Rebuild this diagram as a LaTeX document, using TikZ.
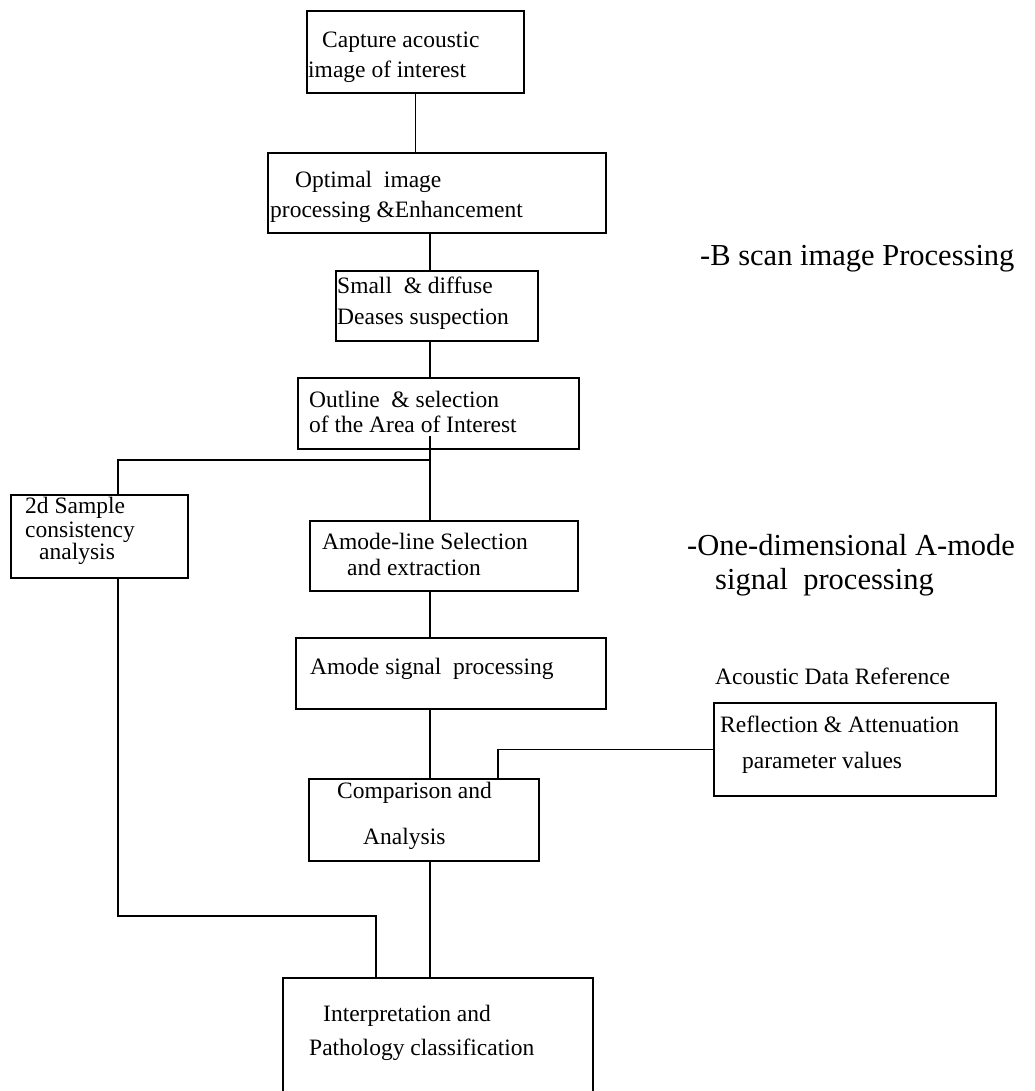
\documentclass[tikz,border=0pt]{standalone}
\usepackage{fontspec}
\setmainfont{Liberation Serif}
\begin{document}
\begin{tikzpicture}[x=1pt, y=-1pt,
  box/.style={draw, line width=1.6pt, inner sep=0pt, anchor=north west},
  lbl/.style={inner sep=0pt, anchor=mid west, font=\fontsize{23.5}{26}\selectfont},
  side/.style={inner sep=0pt, anchor=mid west, font=\fontsize{30.5}{34}\selectfont},
  wire/.style={line width=1.6pt}]
\useasboundingbox (0,0) rectangle (1034,1091);
\fill[white] (0,0) rectangle (1034,1091);
\clip (0,0) rectangle (1034,1091);

% reference columns for the connectors
\coordinate (spine) at (430,0);
\coordinate (leftx) at (118,0);
\coordinate (tapx)  at (498,0);
\coordinate (split) at (430,460);
\coordinate (elbow) at (376,916);

% boxes
\node[box, minimum width=217pt, minimum height=82pt] (capture) at (306,10) {};
\node[box, minimum width=338pt, minimum height=80pt] (optimal) at (267,152) {};
\node[box, minimum width=202pt, minimum height=70pt] (small)   at (335,270) {};
\node[box, minimum width=281pt, minimum height=71pt] (outline) at (297,377) {};
\node[box, minimum width=177pt, minimum height=83pt] (sample)  at (10,494) {};
\node[box, minimum width=268pt, minimum height=70pt] (aline)   at (309,520) {};
\node[box, minimum width=310pt, minimum height=71pt] (asig)    at (295,637) {};
\node[box, minimum width=282pt, minimum height=93pt] (refl)    at (713,702) {};
\node[box, minimum width=230pt, minimum height=82pt] (comp)    at (308,778) {};
\node[box, minimum width=310pt, minimum height=150pt] (interp) at (282,977) {};

% box texts
\node[lbl] (t1a) at (322,45)  {Capture acoustic};
\node[lbl] (t1b) at (308,75)  {image of interest};
\node[lbl] (t2a) at (295,185) {Optimal\ \ image};
\node[lbl] (t2b) at (270,215) {processing \&Enhancement};
\node[lbl] (t3a) at (337,291) {Small\ \ \& diffuse};
\node[lbl] (t3b) at (337,322) {Deases suspection};
\node[lbl] (t4a) at (309,405) {Outline\ \ \& selection};
\node[lbl] (t4b) at (309,430) {of the Area of Interest};
\node[lbl] (t5a) at (25,511)  {2d Sample};
\node[lbl] (t5b) at (25,535)  {consistency};
\node[lbl] (t5c) at (39,557)  {analysis};
\node[lbl] (t6a) at (322,547) {Amode-line Selection};
\node[lbl] (t6b) at (347,573) {and extraction};
\node[lbl] (t7a) at (310,672) {Amode signal\ \ processing};
\node[lbl] (t8h) at (715,682) {Acoustic Data Reference};
\node[lbl] (t8a) at (720,730) {Reflection \& Attenuation};
\node[lbl] (t8b) at (742,766) {parameter values};
\node[lbl] (t9a) at (337,796) {Comparison and};
\node[lbl] (t9b) at (363,842) {Analysis};
\node[lbl] (t10a) at (323,1019) {Interpretation and};
\node[lbl] (t10b) at (309,1053) {Pathology classification};

% stage captions
\node[side] (capB) at (700,263) {-B\ scan image Processing};
\node[side] (capA) at (687,553) {-One-dimensional A-mode};
\node[side] (capA2) at (715,587) {signal\ \ processing};

% connectors
\draw[wire] (capture.south) -- (capture.south |- optimal.north);
\draw[wire] (optimal.south -| spine) -- (small.north -| spine);
\draw[wire] (small.south -| spine) -- (outline.north -| spine);
\draw[wire] ([yshift=14pt]outline.south -| spine) -- (aline.north -| spine);
\draw[wire] (aline.south -| spine) -- (asig.north -| spine);
\draw[wire] (asig.south -| spine) -- (comp.north -| spine);
\draw[wire] (comp.south -| spine) -- (interp.north -| spine);
\draw[wire] (split) -| (sample.north -| leftx);
\draw[wire] (sample.south -| leftx) |- (elbow) -- (elbow |- interp.north);
\draw[wire] (refl.west) -| (comp.north -| tapx);
\end{tikzpicture}
\end{document}
